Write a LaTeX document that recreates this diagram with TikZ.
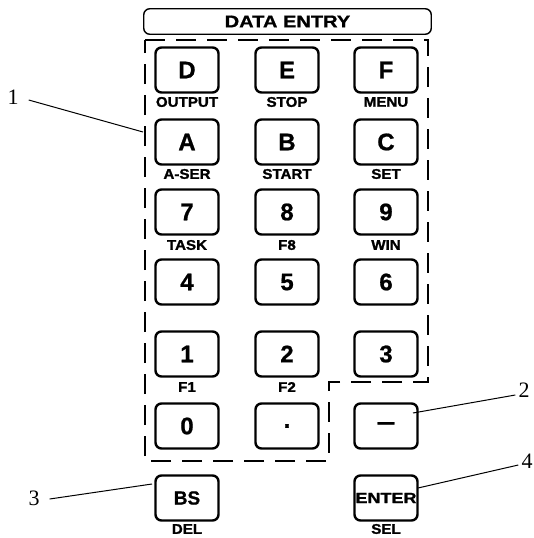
\documentclass[tikz,border=0pt]{standalone}
\usepackage{fontspec}
\usepackage{graphicx}
\setmainfont{Liberation Sans}
\newfontfamily\keyfont[FakeBold=0.8]{Liberation Sans Bold}
\newfontfamily\labfont[FakeBold=1.4, FakeStretch=1.08]{Liberation Sans Bold}
\newfontfamily\numfont{Liberation Serif}
\begin{document}
\begin{tikzpicture}[x=1pt,y=-1pt,
  keybox/.style={draw, line width=2.4pt, rounded corners=6pt, minimum width=63pt, minimum height=45pt, inner sep=0pt, font=\keyfont\fontsize{24}{24}\selectfont},
  keylab/.style={inner sep=0pt, font=\labfont\fontsize{14}{14}\selectfont},
  callout/.style={inner sep=0pt, font=\numfont\fontsize{22}{22}\selectfont},
  leader/.style={line width=1pt},
  dashline/.style={line width=1.8pt, dash pattern=on 20pt off 11pt},
  titlebox/.style={draw, line width=1.4pt, rounded corners=6pt, minimum width=287.5pt, minimum height=25.5pt, inner sep=0pt, font=\keyfont\fontsize{17}{17}\selectfont}
]
\useasboundingbox (0,0) rectangle (533,538);

% title
\node[titlebox] (title) at (287.5,21.5) {\scalebox{1.18}[1]{DATA ENTRY}};

% dashed group outline
\draw[dashline] (145,40) -- (428,40) -- (428,382) -- (329,382) -- (329,461) -- (145,461) -- cycle;

% keys
\node[keybox] (kD) at (187,70) {D};
\node[keybox] (kE) at (287,70) {E};
\node[keybox] (kF) at (386,70) {F};
\node[keybox] (kA) at (187,142) {A};
\node[keybox] (kB) at (287,142) {B};
\node[keybox] (kC) at (386,142) {C};
\node[keybox] (k7) at (187,212) {7};
\node[keybox] (k8) at (287,212) {8};
\node[keybox] (k9) at (386,212) {9};
\node[keybox] (k4) at (187,282) {4};
\node[keybox] (k5) at (287,282) {5};
\node[keybox] (k6) at (386,282) {6};
\node[keybox] (k1) at (187,354) {1};
\node[keybox] (k2) at (287,354) {2};
\node[keybox] (k3) at (386,354) {3};
\node[keybox] (k0) at (187,426) {0};
\node[keybox] (kdot) at (287,426) {.};
\node[keybox] (kminus) at (386,426) {\raisebox{-2pt}{\scalebox{1.4}[1]{–}}};
\node[keybox, font=\keyfont\fontsize{19}{19}\selectfont] (kBS) at (187,498) {BS};
\node[keybox, font=\keyfont\fontsize{15}{15}\selectfont] (kENTER) at (386,498) {\scalebox{1.2}[1]{ENTER}};

% key sub-labels
\node[keylab] (lOUTPUT) at (187,102) {OUTPUT};
\node[keylab] (lSTOP) at (287,102) {STOP};
\node[keylab] (lMENU) at (386,102) {MENU};
\node[keylab] (lASER) at (187,174) {A-SER};
\node[keylab] (lSTART) at (287,174) {START};
\node[keylab] (lSET) at (386,174) {SET};
\node[keylab] (lTASK) at (187,245) {TASK};
\node[keylab] (lF8) at (287,245) {F8};
\node[keylab] (lWIN) at (386,245) {WIN};
\node[keylab] (lF1) at (187,387) {F1};
\node[keylab] (lF2) at (287,387) {F2};
\node[keylab] (lDEL) at (187,529) {DEL};
\node[keylab] (lSEL) at (386,529) {SEL};

% callouts
\node[callout] (n1) at (13,97) {1};
\node[callout] (n2) at (524,390) {2};
\node[callout] (n3) at (34,498) {3};
\node[callout] (n4) at (527,461) {4};

\coordinate (e1) at (143,132);
\coordinate (e2) at (413,413);
\coordinate (e3) at (152,484);
\coordinate (e4) at (418,488);

\draw[leader] (n1.east) ++(10,3) -- (e1);
\draw[leader] (n2.west) ++(-3,5) -- (e2);
\draw[leader] (n3.east) ++(10,1) -- (e3);
\draw[leader] (n4.west) ++(-3,4) -- (e4);
\end{tikzpicture}
\end{document}
